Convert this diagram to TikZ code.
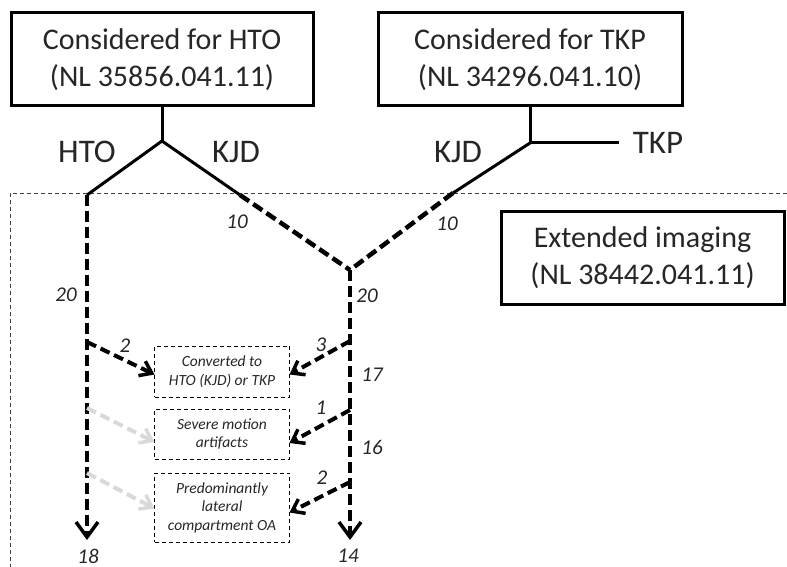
\documentclass[tikz,border=0pt]{standalone}
\usepackage{fontspec}
\setmainfont{Carlito}
\usetikzlibrary{arrows.meta}
\definecolor{textcol}{HTML}{262626}
\definecolor{lightarrow}{HTML}{D9D9D9}
\begin{document}
\begin{tikzpicture}[x=1pt,y=-1pt,
  bigbox/.style={draw=black, line width=3pt, inner sep=0pt, outer sep=0pt,
    align=center, text=textcol, font=\fontsize{30}{37}\selectfont},
  smallbox/.style={draw=black, line width=1pt, dash pattern=on 4pt off 3pt,
    inner sep=0pt, outer sep=0pt, minimum width=135pt, align=center,
    text=textcol, font=\fontsize{15.5}{18.5}\selectfont\itshape},
  branch/.style={text=textcol, font=\fontsize{33}{36}\selectfont},
  num/.style={text=textcol, font=\fontsize{21}{23}\selectfont\itshape},
  solidline/.style={draw=black, line width=3pt},
  dashline/.style={draw=black, line width=4.5pt, dash pattern=on 11pt off 5pt},
  bigtip/.style={-{Straight Barb[length=15pt,width=22pt,line width=3.5pt]}},
  smalltip/.style={-{Straight Barb[length=11pt,width=16pt,line width=3.5pt]}},
  sidearrow/.style={draw=black, line width=4pt, dash pattern=on 10pt off 5pt, smalltip},
  grayarrow/.style={draw=lightarrow, line width=4pt, dash pattern=on 10pt off 5pt, smalltip},
]
\useasboundingbox (0,0) rectangle (787,567);

% outer dashed frame
\draw[draw=black!75, line width=1pt, dash pattern=on 4pt off 3pt]
  (787,193) -- (10,193) -- (10,567);

% boxes
\node[bigbox, minimum width=302pt, minimum height=93pt] (hto) at (162,59.5)
  {Considered for HTO\\(NL 35856.041.11)};
\node[bigbox, minimum width=304pt, minimum height=93pt] (tkp) at (530,59.5)
  {Considered for TKP\\(NL 34296.041.10)};
\node[bigbox, minimum width=283pt, minimum height=93pt] (ext) at (642.5,257.5)
  {Extended imaging\\(NL 38442.041.11)};

\node[smallbox, minimum height=51pt] (sa) at (222,371.5) {Converted to\\HTO (KJD) or TKP};
\node[smallbox, minimum height=50pt] (sb) at (222,434) {Severe motion\\artifacts};
\node[smallbox, minimum height=69pt] (sc) at (222,507.5) {Predominantly\\lateral\\compartment OA};

% junction coordinates
\coordinate (j1) at (162,141);
\coordinate (hl) at (87,195);
\coordinate (kl) at (240,195);
\coordinate (j2) at (530,143);
\coordinate (tk) at (619,143);
\coordinate (kr) at (453,193);
\coordinate (jc) at (350,270);
\coordinate (e1) at (87,540);
\coordinate (e2) at (350,540);
\coordinate (l1) at (87,342);
\coordinate (l2) at (87,408);
\coordinate (l3) at (87,473);
\coordinate (r1) at (350,341);
\coordinate (r2) at (350,410);
\coordinate (r3) at (350,482);

% solid tree lines
\draw[solidline] (hto.south) -- (j1);
\draw[solidline, line join=bevel] (hl) -- (j1) -- (kl);
\draw[solidline] (tkp.south) -- (j2);
\draw[solidline] (j2) -- (tk);
\draw[solidline] (j2) -- (kr);

% dashed lines
\draw[dashline] (kl) -- (jc);
\draw[dashline] (kr) -- (jc);
\draw[dashline, bigtip] (hl) -- (e1);
\draw[dashline, bigtip] (jc) -- (e2);

% side arrows
\draw[sidearrow] (l1) -- ([yshift=-3pt]sa.west);
\draw[grayarrow] (l2) -- ([yshift=-8pt]sb.west);
\draw[grayarrow] (l3) -- ([yshift=-1pt]sc.west);
\draw[sidearrow] (r1) -- ([yshift=-3pt]sa.east);
\draw[sidearrow] (r2) -- ([yshift=-9pt]sb.east);
\draw[sidearrow] (r3) -- ([yshift=-5pt]sc.east);

% branch labels
\node[branch] (lhto) at (87,152) {HTO};
\node[branch] (lkjd1) at (236,152) {KJD};
\node[branch] (lkjd2) at (458,152) {KJD};
\node[branch] (ltkp) at (658,143) {TKP};

% numbers
\node[num] (n10a) at (237,222) {10};
\node[num] (n10b) at (447,224) {10};
\node[num] (n20a) at (66,295) {20};
\node[num] (n20b) at (367,296) {20};
\node[num] (n2a) at (125,346) {2};
\node[num] (n3) at (321,345) {3};
\node[num] (n17) at (372,375) {17};
\node[num] (n1) at (321,408) {1};
\node[num] (n16) at (372,447) {16};
\node[num] (n2b) at (322,478) {2};
\node[num] (n18) at (88,556) {18};
\node[num] (n14) at (348,556) {14};
\end{tikzpicture}
\end{document}
